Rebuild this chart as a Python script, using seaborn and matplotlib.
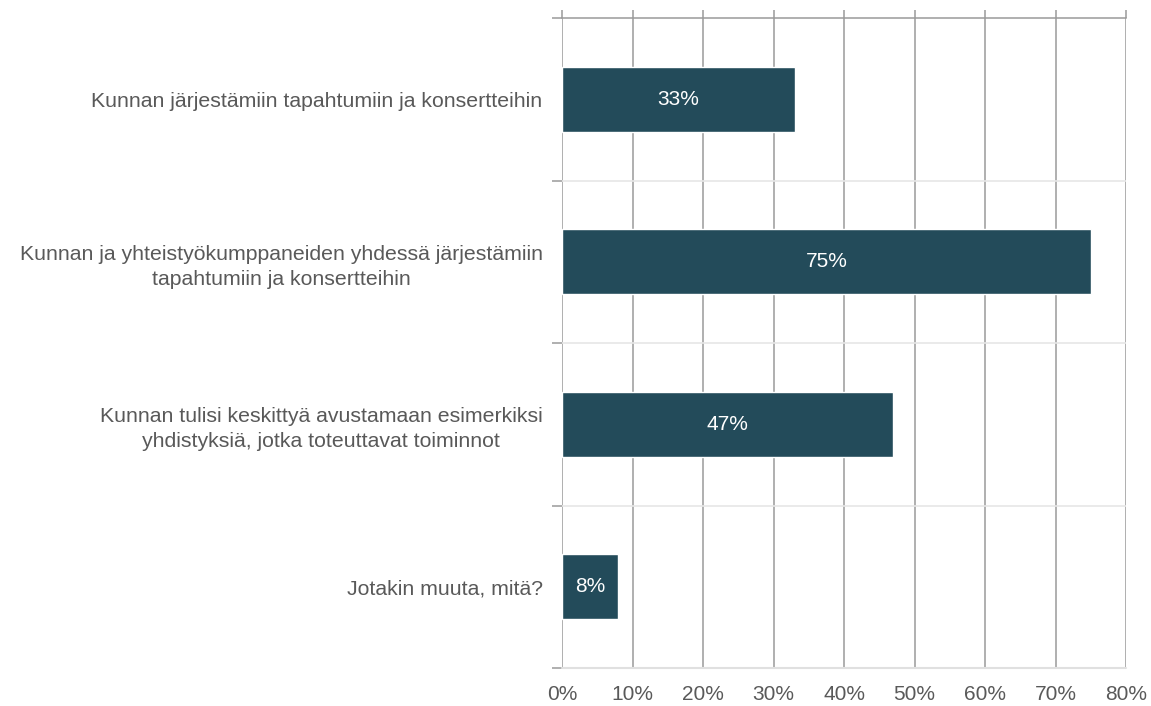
import matplotlib
matplotlib.use("Agg")
import matplotlib.pyplot as plt
import seaborn as sns
import pandas as pd
from matplotlib.ticker import FixedLocator, FuncFormatter

categories = [
    "Kunnan järjestämiin tapahtumiin ja konsertteihin",
    "Kunnan ja yhteistyökumppaneiden yhdessä järjestämiin\ntapahtumiin ja konsertteihin",
    "Kunnan tulisi keskittyä avustamaan esimerkiksi\nyhdistyksiä, jotka toteuttavat toiminnot",
    "Jotakin muuta, mitä?",
]
values = [33, 75, 47, 8]
xticks = [0, 10, 20, 30, 40, 50, 60, 70, 80]

sns.set_theme(style="white")
plt.rcParams["font.family"] = ["Liberation Sans", "DejaVu Sans"]

df = pd.DataFrame({"cat": categories, "val": values})

fig = plt.figure(figsize=(11.51, 7.06), dpi=100)
ax = fig.add_axes([562 / 1151, 1 - 668 / 706, (1126 - 562) / 1151, (668 - 18) / 706])

sns.barplot(data=df, x="val", y="cat", orient="h", color="#234B5A",
            width=0.4, saturation=1, ax=ax, zorder=3)

ax.set_xlim(0, 80)
ax.set_ylim(len(categories) - 0.5, -0.5)
ax.set_xlabel("")
ax.set_ylabel("")

# vertical gridlines
ax.xaxis.set_major_locator(FixedLocator(xticks))
ax.xaxis.set_major_formatter(FuncFormatter(lambda v, p: f"{int(v)}%"))
ax.grid(axis="x", color="#9a9a9a", linewidth=1.1, zorder=0)
ax.set_axisbelow(True)

# horizontal separators at category boundaries
bounds = [i - 0.5 for i in range(len(categories) + 1)]
for b in bounds[1:-1]:
    ax.axhline(b, color="#e6e6e6", linewidth=1.2, zorder=1)

for s in ["left", "right", "bottom"]:
    ax.spines[s].set_visible(False)
ax.spines["top"].set_visible(True)
ax.spines["top"].set_color("#9a9a9a")
ax.spines["top"].set_linewidth(1.1)
ax.axhline(bounds[-1], color="#e0e0e0", linewidth=1.5, zorder=1, clip_on=False)

ax.tick_params(axis="x", which="major", bottom=False, top=True, labelbottom=True,
               labeltop=False, length=6, color="#9a9a9a", width=1.1,
               labelsize=15, labelcolor="#595959", pad=6)

ax.yaxis.set_major_locator(FixedLocator(range(len(categories))))
ax.set_yticklabels(categories, multialignment="center", linespacing=1.4)
ax.yaxis.set_minor_locator(FixedLocator(bounds))
ax.tick_params(axis="y", which="major", left=False, labelsize=15.3,
               labelcolor="#595959", pad=8)
ax.tick_params(axis="y", which="minor", left=True, length=7, color="#9a9a9a", width=1.1)

for i, v in enumerate(values):
    ax.text(v / 2, i, f"{v}%", ha="center", va="center", color="white",
            fontsize=15, zorder=4)

fig.savefig("out.png", dpi=100)
